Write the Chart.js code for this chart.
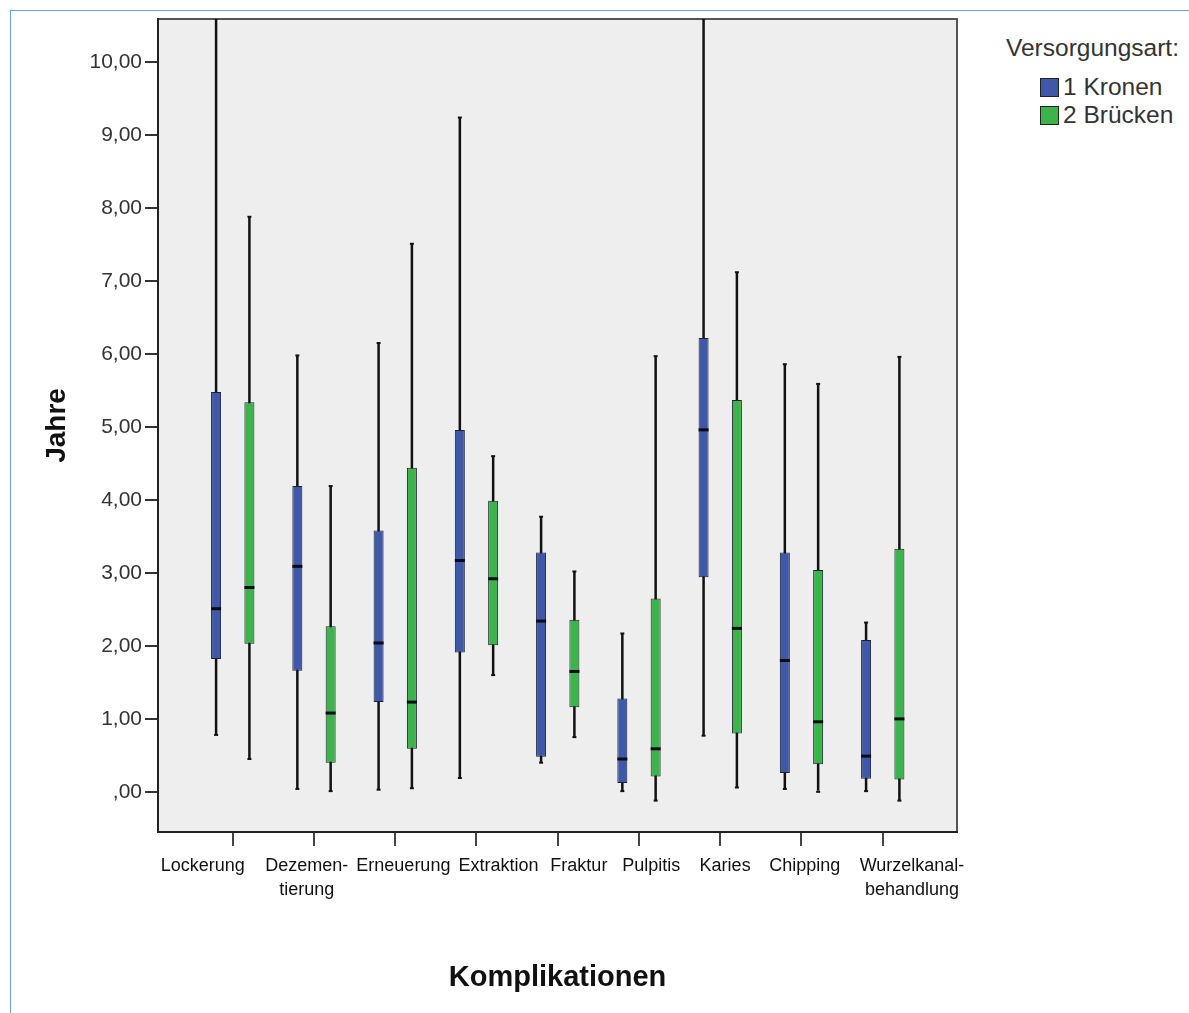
<!DOCTYPE html>
<html>
<head>
<meta charset="utf-8">
<title>Komplikationen</title>
<script src="https://cdn.jsdelivr.net/npm/chart.js@4.4.1/dist/chart.umd.min.js"></script>
<style>
  body { margin: 0; background: #fff; font-family: "Liberation Sans", Arial, sans-serif; }
  #frame { position: absolute; left: 10px; top: 10px; width: 1200px; height: 1020px; border: 1px solid #6f9fdb; }
  #chartBox { position: absolute; left: 0; top: 0; width: 977px; height: 1013px; }
  #legend { position: absolute; left: 1006px; top: 34px; color: #333; font-size: 24.5px; }
  #legend .title { line-height: 28px; }
  #legend .item { display: flex; align-items: center; height: 28px; margin-left: 34px; }
  #legend .title + .item { margin-top: 11px; }
  #legend .swatch { width: 17px; height: 17px; border: 1px solid #222; margin-right: 4px; }
</style>
</head>
<body>
<div id="frame"></div>
<div id="chartBox"><canvas id="chart"></canvas></div>
<div id="legend"></div>
<script>
// categories and tick labels
const categories = ['Lockerung', 'Dezementierung', 'Erneuerung', 'Extraktion', 'Fraktur', 'Pulpitis', 'Karies', 'Chipping', 'Wurzelkanalbehandlung'];
const categoryTickLabels = ['Lockerung', ['Dezemen-', 'tierung'], 'Erneuerung', 'Extraktion', 'Fraktur', 'Pulpitis', 'Karies', 'Chipping', ['Wurzelkanal-', 'behandlung']];
const seriesNames = ['1 Kronen', '2 Brücken'];

// 1 Kronen (Jahre)
const kronenMin    = [0.78, 0.04, 0.03, 0.19, 0.40, 0.01, 0.77, 0.04, 0.01];
const kronenQ1     = [1.82, 1.66, 1.23, 1.91, 0.48, 0.12, 2.94, 0.26, 0.18];
const kronenMedian = [2.51, 3.09, 2.04, 3.17, 2.34, 0.45, 4.96, 1.80, 0.49];
const kronenQ3     = [5.48, 4.19, 3.58, 4.96, 3.28, 1.28, 6.22, 3.28, 2.08];
const kronenMax    = [10.6, 5.98, 6.15, 9.24, 3.77, 2.17, 10.6, 5.86, 2.32];

// 2 Brücken (Jahre)
const brueckenMin    = [0.45, 0.01, 0.05, 1.60, 0.75, -0.12, 0.06, 0.00, -0.12];
const brueckenQ1     = [2.03, 0.40, 0.59, 2.01, 1.16, 0.21, 0.80, 0.38, 0.17];
const brueckenMedian = [2.80, 1.08, 1.23, 2.92, 1.65, 0.59, 2.24, 0.96, 1.00];
const brueckenQ3     = [5.34, 2.27, 4.44, 3.99, 2.36, 2.65, 5.37, 3.04, 3.33];
const brueckenMax    = [7.88, 4.19, 7.51, 4.60, 3.02, 5.97, 7.12, 5.59, 5.96];

// y axis ticks
const yTickValues = [0, 1, 2, 3, 4, 5, 6, 7, 8, 9, 10];
const yTickLabels = [',00', '1,00', '2,00', '3,00', '4,00', '5,00', '6,00', '7,00', '8,00', '9,00', '10,00'];

// layout tweaks (not data)
const groupShift = [-0.205, 0.205];   // box position left/right of the category tick
const labelShift = [-0.37, -0.09, 0.10, 0.27, 0.26, 0.15, 0.06, 0.04, 0.36]; // labels sit a bit off the ticks
const colors = ['#3f58a8', '#3cb44b'];
const FONT = "'Liberation Sans', Arial, sans-serif";

const series = [
    { name: seriesNames[0], color: colors[0], min: kronenMin, q1: kronenQ1, med: kronenMedian, q3: kronenQ3, max: kronenMax },
    { name: seriesNames[1], color: colors[1], min: brueckenMin, q1: brueckenQ1, med: brueckenMedian, q3: brueckenQ3, max: brueckenMax }
];

function rangeData(lo, hi, shift) {
    return categories.map((c, i) => ({ x: i + shift, y: [lo[i], hi[i]] }));
}
function pointData(vals, shift) {
    return categories.map((c, i) => ({ x: i + shift, y: vals[i] }));
}

const datasets = [];
series.forEach((s, k) => {
    const shift = groupShift[k];
    // whisker line
    datasets.push({ type: 'bar', label: s.name + ' whisker', data: rangeData(s.min, s.max, shift),
        backgroundColor: '#111', grouped: false, maxBarThickness: 2.5, order: 4 });
    // box
    datasets.push({ type: 'bar', label: s.name, data: rangeData(s.q1, s.q3, shift),
        backgroundColor: s.color, borderColor: '#1c2030', borderWidth: 1, borderSkipped: false,
        grouped: false, maxBarThickness: 10, order: 3 });
    // whisker ends
    datasets.push({ type: 'scatter', label: s.name + ' caps', data: pointData(s.min, shift).concat(pointData(s.max, shift)),
        pointStyle: 'line', pointRadius: 2, borderColor: '#111', borderWidth: 2, order: 2 });
    // median
    datasets.push({ type: 'scatter', label: s.name + ' median', data: pointData(s.med, shift),
        pointStyle: 'line', pointRadius: 5, borderColor: '#0c0c18', borderWidth: 3, order: 1 });
});

// gray plot area with frame
const plotFrame = {
    id: 'plotFrame',
    beforeDraw(chart) {
        const { ctx, chartArea: a } = chart;
        ctx.save();
        ctx.fillStyle = '#eeeeee';
        ctx.fillRect(a.left, a.top, a.right - a.left, a.bottom - a.top);
        ctx.strokeStyle = '#555';
        ctx.lineWidth = 2;
        ctx.strokeRect(a.left, a.top, a.right - a.left, a.bottom - a.top);
        ctx.restore();
    }
};

new Chart(document.getElementById('chart'), {
    type: 'bar',
    data: { datasets: datasets },
    plugins: [plotFrame],
    options: {
        responsive: true,
        maintainAspectRatio: false,
        animation: false,
        events: [],
        layout: { padding: { top: 19, right: 20, bottom: 0, left: 0 } },
        plugins: { legend: { display: false }, tooltip: { enabled: false } },
        scales: {
            x: {
                type: 'linear', position: 'bottom', weight: 1,
                min: -0.92, max: 8.914, offset: false, bounds: 'data',
                afterBuildTicks: scale => { scale.ticks = categories.map((c, i) => ({ value: i })); },
                afterFit: scale => { scale.height = 14; },
                ticks: { display: false },
                grid: { drawOnChartArea: false, offset: false, tickLength: 14, color: '#444', lineWidth: 2 },
                border: { display: true, color: '#222', width: 2 }
            },
            xl: {
                type: 'linear', position: 'bottom', weight: 2,
                min: -0.92, max: 8.914, offset: false, bounds: 'data',
                afterBuildTicks: scale => { scale.ticks = categories.map((c, i) => ({ value: i + labelShift[i] })); },
                afterFit: scale => { scale.height = 167; },
                ticks: {
                    autoSkip: false, maxRotation: 0, minRotation: 0, padding: 1, color: '#111',
                    font: { family: FONT, size: 18, lineHeight: 1.28 },
                    callback: (value, index) => categoryTickLabels[index]
                },
                grid: { display: false, offset: false },
                border: { display: false },
                title: {
                    display: true, text: 'Komplikationen', color: '#111',
                    font: { family: FONT, size: 29, weight: 'bold' },
                    padding: { top: 10, bottom: 18 }
                }
            },
            y: {
                type: 'linear', position: 'left',
                min: -0.55, max: 10.59, bounds: 'data',
                afterBuildTicks: scale => { scale.ticks = yTickValues.map(v => ({ value: v })); },
                afterFit: scale => { scale.width = 158; },
                ticks: {
                    padding: 3, color: '#333',
                    font: { family: FONT, size: 21 },
                    callback: (value, index) => yTickLabels[index]
                },
                grid: { drawOnChartArea: false, tickLength: 13, color: '#333', lineWidth: 2 },
                border: { display: true, color: '#222', width: 2 },
                title: {
                    display: true, text: 'Jahre', color: '#111',
                    font: { family: FONT, size: 28, weight: 'bold' },
                    padding: { top: 40, bottom: 4 }
                }
            }
        }
    }
});

// legend (html, built from the series)
const legend = document.getElementById('legend');
legend.innerHTML = '<div class="title">Versorgungsart:</div>' +
    series.map(s => `<div class="item"><span class="swatch" style="background:${s.color}"></span>${s.name}</div>`).join('');
</script>
</body>
</html>
